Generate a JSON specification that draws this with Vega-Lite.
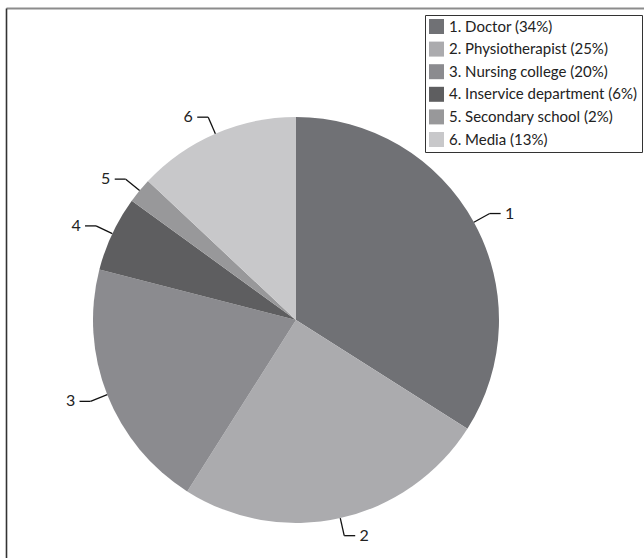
{
  "$schema": "https://vega.github.io/schema/vega-lite/v6.json",
  "width": 638,
  "height": 550,
  "autosize": {"type": "none"},
  "padding": {"left": 6, "top": 8, "right": 0, "bottom": 0},
  "background": "white",
  "config": {
    "view": {"stroke": null},
    "font": "Lato"
  },
  "data": {
    "values": [
      {"id": 1, "label": "1. Doctor (34%)", "share": 34},
      {"id": 2, "label": "2. Physiotherapist (25%)", "share": 25},
      {"id": 3, "label": "3. Nursing college (20%)", "share": 20},
      {"id": 4, "label": "4. Inservice department (6%)", "share": 6},
      {"id": 5, "label": "5. Secondary school (2%)", "share": 2},
      {"id": 6, "label": "6. Media (13%)", "share": 13}
    ]
  },
  "transform": [
    {"window": [{"op": "sum", "field": "share", "as": "cum"}], "sort": [{"field": "id"}], "frame": [null, 0]},
    {"calculate": "(datum.cum - datum.share / 2) * 2 * PI / 100", "as": "mid"},
    {"calculate": "203 * sin(datum.mid)", "as": "ex"},
    {"calculate": "203 * cos(datum.mid)", "as": "ey"},
    {"calculate": "221 * sin(datum.mid)", "as": "bx"},
    {"calculate": "221 * cos(datum.mid)", "as": "by"},
    {"calculate": "sin(datum.mid) >= 0 ? 1 : -1", "as": "side"},
    {"calculate": "datum.bx + 11 * datum.side", "as": "cx"},
    {"calculate": "datum.cx + 9 * datum.side", "as": "tx"}
  ],
  "resolve": {"scale": {"color": "independent"}},
  "layer": [
    {
      "mark": {"type": "arc", "radius": 203, "stroke": null},
      "encoding": {
        "x": {
          "datum": 0,
          "type": "quantitative",
          "scale": {"domain": [-290, 348], "nice": false, "zero": false},
          "axis": {"orient": "top", "domain": true, "domainColor": "#8c8c8c", "domainWidth": 2, "ticks": false, "labels": false, "grid": false, "title": null}
        },
        "y": {
          "datum": 0,
          "type": "quantitative",
          "scale": {"domain": [-238, 312], "nice": false, "zero": false},
          "axis": {"orient": "left", "domain": true, "domainColor": "#333333", "domainWidth": 1.6, "ticks": false, "labels": false, "grid": false, "title": null}
        },
        "theta": {"field": "share", "type": "quantitative", "stack": true},
        "order": {"field": "id", "type": "quantitative"},
        "color": {
          "field": "label",
          "type": "nominal",
          "sort": {"field": "id"},
          "scale": {"range": ["#707175", "#ababae", "#8b8b8f", "#5e5e60", "#98989a", "#c8c8ca"]},
          "legend": {
            "title": null,
            "orient": "none",
            "legendX": 419,
            "legendY": 7,
            "symbolType": "square",
            "symbolSize": 225,
            "symbolStrokeWidth": 0,
            "labelFont": "Lato",
            "labelFontSize": 15,
            "labelColor": "#222222",
            "labelOffset": 5,
            "labelLimit": 400,
            "rowPadding": 6.6,
            "padding": 4,
            "strokeColor": "#333333",
            "fillColor": "white"
          }
        }
      }
    },
    {
      "mark": {"type": "rule", "color": "#111111", "strokeWidth": 1.3},
      "encoding": {
        "x": {"field": "ex", "type": "quantitative"},
        "y": {"field": "ey", "type": "quantitative"},
        "x2": {"field": "bx"},
        "y2": {"field": "by"}
      }
    },
    {
      "mark": {"type": "rule", "color": "#111111", "strokeWidth": 1.3},
      "encoding": {
        "x": {"field": "bx", "type": "quantitative"},
        "y": {"field": "by", "type": "quantitative"},
        "x2": {"field": "cx"},
        "y2": {"field": "by"}
      }
    },
    {
      "mark": {"type": "text", "font": "Lato", "fontSize": 16, "color": "#222222", "align": "center", "baseline": "middle"},
      "encoding": {
        "x": {"field": "tx", "type": "quantitative"},
        "y": {"field": "by", "type": "quantitative"},
        "text": {"field": "id", "type": "nominal"}
      }
    }
  ]
}
